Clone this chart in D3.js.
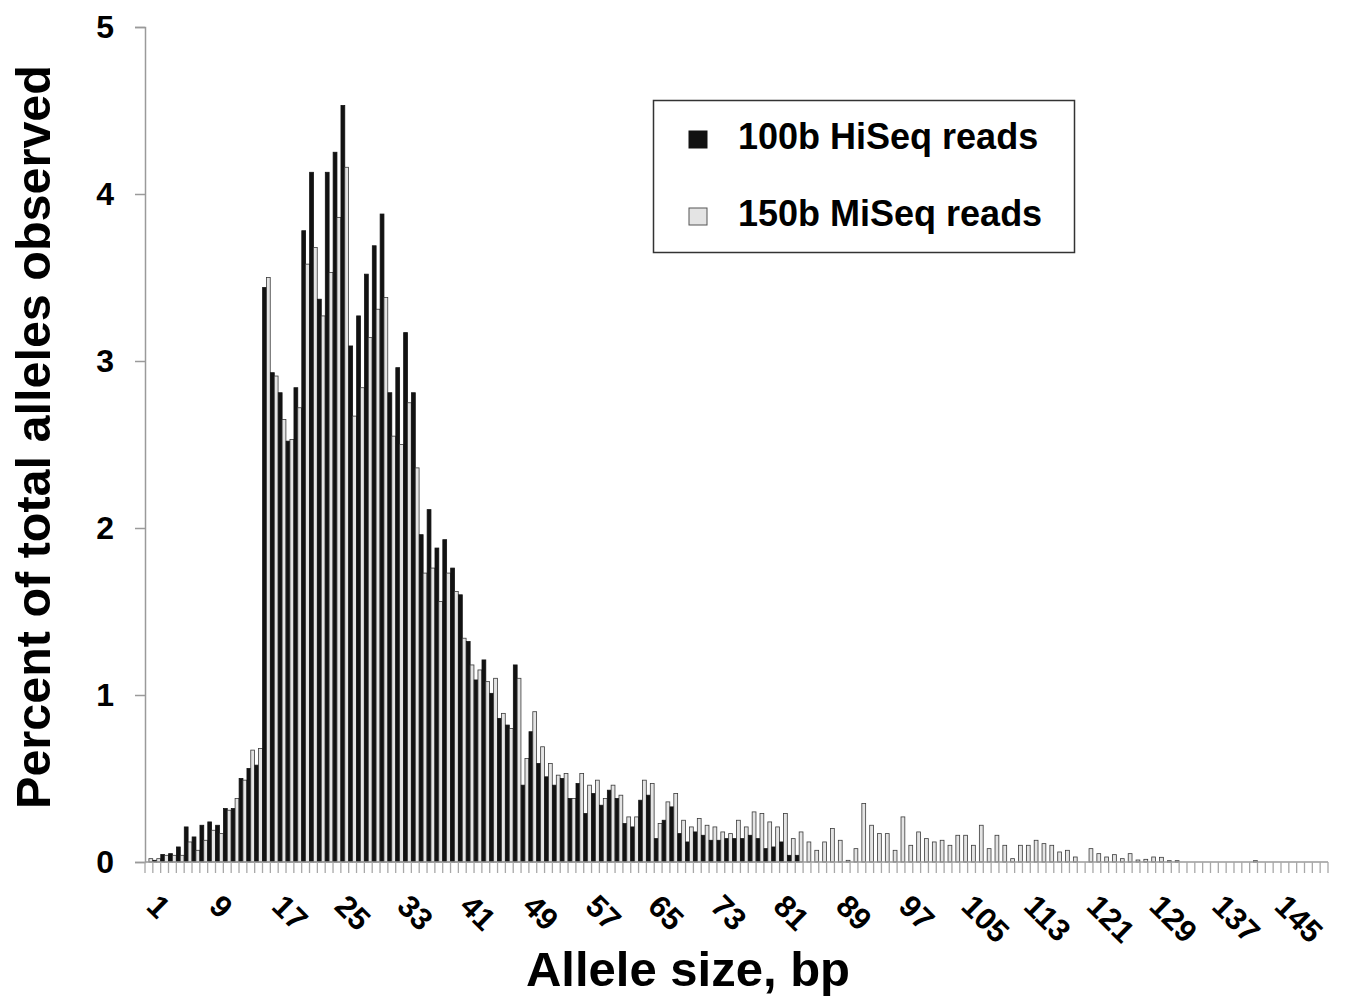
<!DOCTYPE html>
<html>
<head>
<meta charset="utf-8">
<script src="https://cdn.jsdelivr.net/npm/d3@7"></script>
<style>
  body { margin: 0; background: #fff; }
  svg text { font-family: "Liberation Sans", Arial, sans-serif; font-weight: bold; fill: #000; }
</style>
</head>
<body>
<div id="chart"></div>
<script>
// allele sizes 1..151 bp
const sizes = d3.range(1, 152);

// percent of total alleles, 100b HiSeq reads (sizes 1..84, zero afterwards)
const hiseq = [
  0, 0.01, 0.045, 0.05, 0.09, 0.21, 0.15, 0.22, 0.24, 0.22,
  0.32, 0.32, 0.50, 0.56, 0.58, 3.44, 2.93, 2.81, 2.52, 2.84,
  3.78, 4.13, 3.37, 4.13, 4.25, 4.53, 3.09, 3.27, 3.52, 3.69,
  3.88, 2.81, 2.96, 3.17, 2.81, 1.96, 2.11, 1.88, 1.93, 1.76,
  1.60, 1.32, 1.09, 1.21, 1.01, 0.86, 0.82, 1.18, 0.46, 0.78,
  0.59, 0.51, 0.46, 0.50, 0.38, 0.47, 0.29, 0.41, 0.34, 0.43,
  0.38, 0.23, 0.21, 0.37, 0.40, 0.14, 0.25, 0.33, 0.17, 0.12,
  0.18, 0.16, 0.13, 0.13, 0.14, 0.14, 0.14, 0.16, 0.14, 0.08,
  0.09, 0.12, 0.04, 0.04
];

// percent of total alleles, 150b MiSeq reads
const miseq = [
  0.02, 0.02, 0.04, 0.04, 0.04, 0.12, 0.07, 0.13, 0.19, 0.17,
  0.31, 0.38, 0.49, 0.67, 0.68, 3.50, 2.91, 2.65, 2.53, 2.72,
  3.58, 3.68, 3.27, 3.53, 3.86, 4.16, 2.67, 2.84, 3.14, 3.31,
  3.38, 2.55, 2.50, 2.75, 2.36, 1.73, 1.76, 1.56, 1.73, 1.62,
  1.34, 1.18, 1.15, 1.08, 1.10, 0.89, 0.80, 1.10, 0.62, 0.90,
  0.69, 0.59, 0.52, 0.53, 0.38, 0.53, 0.46, 0.49, 0.38, 0.46,
  0.40, 0.27, 0.27, 0.49, 0.47, 0.23, 0.36, 0.41, 0.25, 0.21,
  0.26, 0.22, 0.21, 0.18, 0.17, 0.25, 0.21, 0.30, 0.29, 0.24,
  0.21, 0.29, 0.14, 0.18, 0.12, 0.07, 0.12, 0.20, 0.13, 0.01,
  0.08, 0.35, 0.22, 0.17, 0.17, 0.07, 0.27, 0.10, 0.18, 0.14,
  0.12, 0.13, 0.10, 0.16, 0.16, 0.10, 0.22, 0.08, 0.16, 0.10,
  0.02, 0.10, 0.10, 0.13, 0.11, 0.10, 0.06, 0.07, 0.03, 0,
  0.08, 0.05, 0.03, 0.044, 0.02, 0.05, 0.012, 0.016, 0.03, 0.028,
  0.008, 0.008, 0, 0, 0, 0, 0, 0, 0, 0,
  0, 0.008, 0, 0, 0, 0, 0, 0, 0, 0, 0
];

const seriesNames = ["100b HiSeq reads", "150b MiSeq reads"];
const xLabels = d3.range(1, 152, 8);   // 1, 9, 17 ... 145
const yTicks = [0, 1, 2, 3, 4, 5];

const width = 1345, height = 998;
const margin = {top: 27, right: 17, bottom: 136, left: 145};

const svg = d3.select("#chart").append("svg")
  .attr("width", width)
  .attr("height", height);

const x = d3.scaleBand()
  .domain(sizes)
  .range([margin.left, width - margin.right])
  .paddingInner(0)
  .paddingOuter(0);

const x1 = d3.scaleBand()
  .domain(seriesNames)
  .range([0, x.bandwidth()])
  .paddingInner(0)
  .paddingOuter(0.03);

const y = d3.scaleLinear()
  .domain([0, 5])
  .range([height - margin.bottom, margin.top]);

const data = sizes.map((s, i) => ({
  size: s,
  values: [
    {key: seriesNames[0], v: hiseq[i] || 0},
    {key: seriesNames[1], v: miseq[i] || 0}
  ]
}));

// bars
const groups = svg.append("g")
  .selectAll("g")
  .data(data)
  .join("g")
    .attr("transform", d => `translate(${x(d.size)},0)`);

groups.selectAll("rect")
  .data(d => d.values.filter(e => e.v > 0))
  .join("rect")
    .attr("x", e => x1(e.key))
    .attr("y", e => y(e.v))
    .attr("width", x1.bandwidth())
    .attr("height", e => y(0) - y(e.v))
    .attr("fill", e => e.key === seriesNames[0] ? "#121212" : "#e4e4e4")
    .attr("stroke", e => e.key === seriesNames[0] ? "#121212" : "#3a3a3a")
    .attr("stroke-width", 0.8);

// y axis
const yAxis = svg.append("g")
  .attr("transform", `translate(${margin.left},0)`)
  .call(d3.axisLeft(y).tickValues(yTicks).tickSize(10).tickPadding(21).tickFormat(d3.format("d")));
yAxis.select(".domain").attr("stroke", "#9a9a9a").attr("stroke-width", 1.5);
yAxis.selectAll(".tick line").attr("stroke", "#9a9a9a").attr("stroke-width", 1.5);
yAxis.selectAll(".tick text")
  .attr("font-size", null)
  .style("font-size", "32px")
  .style("font-family", "'Liberation Sans', Arial, sans-serif")
  .style("font-weight", "bold")
  .attr("fill", "#000");

// x axis: baseline plus a tick at every category boundary
const xAxis = svg.append("g");
xAxis.append("line")
  .attr("x1", x.range()[0]).attr("x2", x.range()[1])
  .attr("y1", y(0)).attr("y2", y(0))
  .attr("stroke", "#9a9a9a").attr("stroke-width", 1.5);
xAxis.selectAll("line.tick")
  .data(sizes.concat([null]))
  .join("line")
    .attr("class", "tick")
    .attr("x1", d => d === null ? x.range()[1] : x(d))
    .attr("x2", d => d === null ? x.range()[1] : x(d))
    .attr("y1", y(0))
    .attr("y2", y(0) + 11)
    .attr("stroke", "#a8a8a8")
    .attr("stroke-width", 1.3);

xAxis.selectAll("text")
  .data(xLabels)
  .join("text")
    .attr("transform", d => `translate(${x(d) + x.bandwidth() / 2 - 4},${y(0) + 46}) rotate(45)`)
    .attr("text-anchor", "start")
    .style("font-size", "31px")
    .text(d => d);

// axis titles
svg.append("text")
  .attr("x", 688)
  .attr("y", 986)
  .attr("text-anchor", "middle")
  .style("font-size", "49px")
  .text("Allele size, bp");

svg.append("text")
  .attr("transform", "translate(50,437) rotate(-90)")
  .attr("text-anchor", "middle")
  .style("font-size", "48.5px")
  .text("Percent of total alleles observed");

// legend
const legend = svg.append("g");
legend.append("rect")
  .attr("x", 653.5).attr("y", 100.5)
  .attr("width", 421).attr("height", 152)
  .attr("fill", "#fff")
  .attr("stroke", "#333")
  .attr("stroke-width", 1.5);

const legendRows = legend.selectAll("g")
  .data(seriesNames)
  .join("g")
    .attr("transform", (d, i) => `translate(689,${131 + i * 77})`);

legendRows.append("rect")
  .attr("width", 18).attr("height", 17)
  .attr("fill", (d, i) => i === 0 ? "#121212" : "#e4e4e4")
  .attr("stroke", (d, i) => i === 0 ? "#121212" : "#555")
  .attr("stroke-width", 1);

legendRows.append("text")
  .attr("x", 49)
  .attr("y", 18)
  .style("font-size", "36px")
  .text(d => d);
</script>
</body>
</html>
